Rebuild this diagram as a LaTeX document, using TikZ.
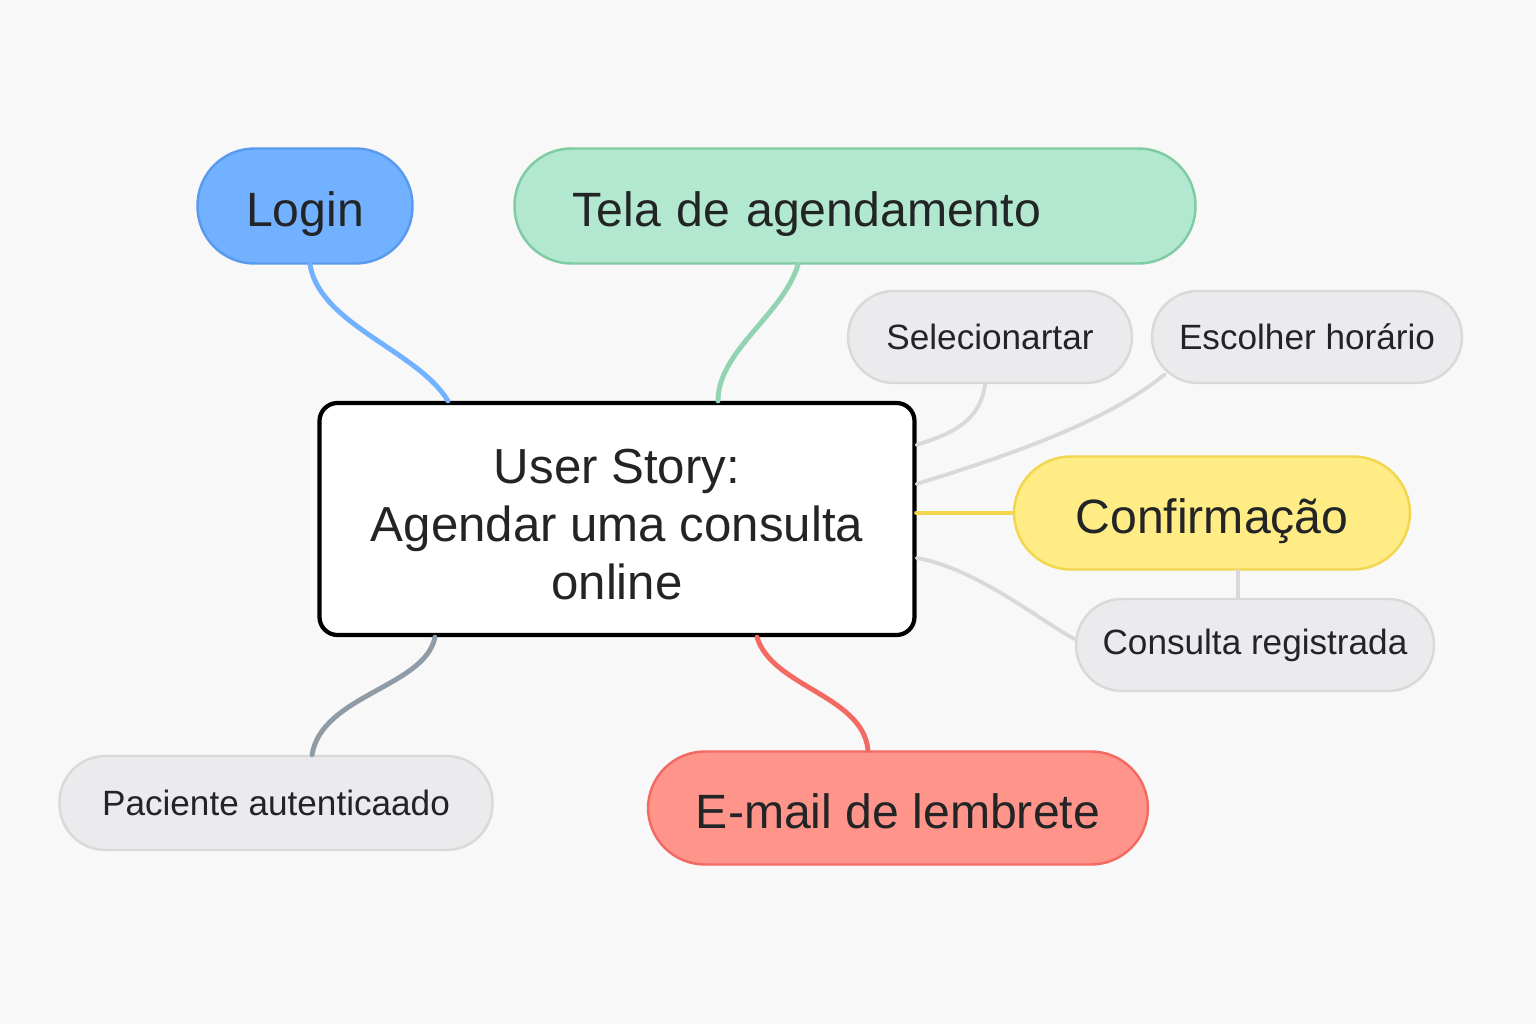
\documentclass[tikz,border=0pt]{standalone}
\usepackage{fontspec}
\setmainfont{Liberation Sans}
\usetikzlibrary{positioning,calc}
\definecolor{bgcol}{HTML}{F8F8F8}
\definecolor{txtcol}{HTML}{222426}
\definecolor{loginfill}{HTML}{72B1FF}
\definecolor{loginline}{HTML}{5A9AEE}
\definecolor{telafill}{HTML}{B2E8D0}
\definecolor{telaline}{HTML}{7FCBA3}
\definecolor{conffill}{HTML}{FFEC85}
\definecolor{confline}{HTML}{F2D64E}
\definecolor{mailfill}{HTML}{FF958A}
\definecolor{mailline}{HTML}{F26A62}
\definecolor{grayfill}{HTML}{EBEBED}
\definecolor{grayline}{HTML}{D9D9D9}
\definecolor{paclink}{HTML}{8F9CA8}

\begin{document}
\begin{tikzpicture}[x=0.1mm, y=-0.1mm,
    pill/.style={draw, line width=0.7pt, rounded corners=5.7mm, minimum height=11.5mm,
        inner sep=0pt, text height=11.4pt, text depth=0pt, text=txtcol,
        font=\fontsize{13.7}{16}\selectfont},
    leaf/.style={draw=grayline, fill=grayfill, line width=0.7pt, rounded corners=4.6mm,
        minimum height=9.2mm, inner sep=0pt, text=txtcol, font=\fontsize{10}{12}\selectfont},
    link/.style={line width=1.4pt, line cap=round},
    thin link/.style={line width=1.1pt, line cap=round, grayline}]
    % Background
    \fill[bgcol] (0,0) rectangle (1536,1024);

    % Central story
    \node[draw=black, fill=white, line width=1.2pt, rounded corners=1.8mm, minimum width=59.5mm,
        minimum height=23.2mm, align=center, text=txtcol,
        font=\fontsize{14}{16.5}\selectfont] (story) at (617,519) {\rule{0pt}{13pt}User Story:\\Agendar uma consulta\\online};

    % Main topics
    \node[pill, fill=loginfill, draw=loginline, minimum width=21.5mm] (login) at (305,206) {Login};
    \node[pill, fill=telafill, draw=telaline, text width=56.5mm, inner xsep=5.8mm, align=left] (tela) at (855,206) {Tela de agendamento};
    \node[pill, fill=conffill, draw=confline, minimum width=39.6mm, minimum height=11.3mm] (conf) at (1212,513) {Confirmação};
    \node[pill, fill=mailfill, draw=mailline, minimum width=50mm, minimum height=11.3mm] (mail) at (898,808) {E-mail de lembrete};

    % Sub topics
    \node[leaf, minimum width=28.4mm] (sel) at (990,337) {Selecionartar};
    \node[leaf, minimum width=31mm] (esc) at (1307,337) {Escolher horário};
    \node[leaf, minimum width=35.8mm] (reg) at (1255,645) {Consulta registrada};
    \node[leaf, minimum width=43.3mm, minimum height=9.4mm] (pac) at (276,803) {Paciente autenticaado};

    % Links to main topics
    \draw[link, loginfill] ([xshift=0.5mm]login.south) .. controls +(10,60) and +(-30,-50) .. ([xshift=-16.9mm]story.north);
    \draw[link, telaline!85] ([xshift=-5.7mm]tela.south) .. controls +(-15,50) and +(0,-50) .. ([xshift=10.1mm]story.north);
    \draw[link, confline] (story.east |- conf.west) -- (conf.west);
    \draw[link, mailline] ([xshift=14mm]story.south) .. controls +(15,50) and +(-5,-55) .. ([xshift=-3mm]mail.north);
    \draw[link, paclink] ([xshift=-18.2mm]story.south) .. controls +(-10,50) and +(10,-60) .. ([xshift=3.6mm]pac.north);

    % Links to sub topics
    \draw[thin link] ([xshift=-0.5mm]sel.south) .. controls +(-5,40) and +(30,-10) .. ([yshift=7.4mm]story.east);
    \draw[thin link] ([shift={(1.4mm,1mm)}]esc.south west) .. controls +(-60,50) and +(80,-25) .. ([yshift=3.5mm]story.east);
    \draw[thin link] ([yshift=-3.9mm]story.east) .. controls +(60,10) and +(-30,-15) .. ([yshift=0.6mm]reg.west);
    \draw[thin link] ([xshift=2.6mm]conf.south) -- ([xshift=2.6mm]conf.south |- reg.north);
\end{tikzpicture}
\end{document}
